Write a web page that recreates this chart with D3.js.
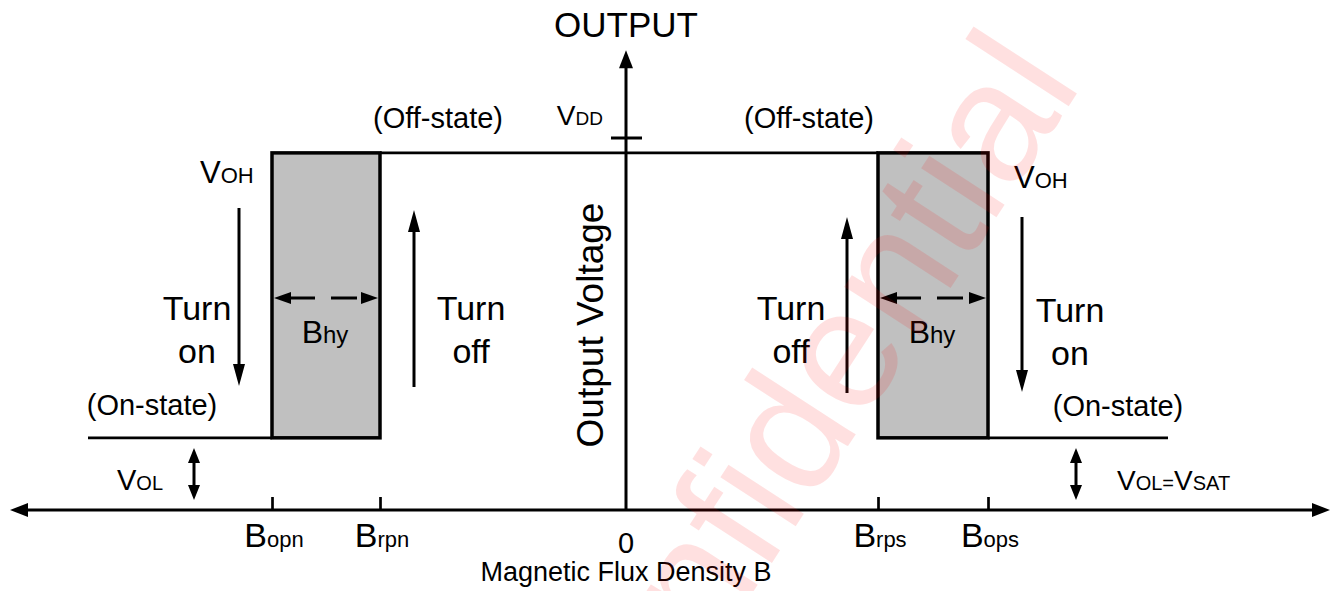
<!DOCTYPE html>
<html>
<head>
<meta charset="utf-8">
<script src="https://cdn.jsdelivr.net/npm/d3@7"></script>
<style>
    html, body { margin: 0; padding: 0; background: #fff; }
    svg { display: block; font-family: "Liberation Sans", Arial, sans-serif; }
</style>
</head>
<body>
<div id="hysteresis"></div>
<script>
// Switching thresholds on the flux axis (arbitrary units, 0 at the origin)
const fluxNames = ["opn", "rpn", "rps", "ops"];
const fluxValues = [-35.4, -24.6, 25.2, 36.2];
// Output levels (V)
const levelNames = ["VOL", "VOH", "VDD"];
const levelValues = [0.97, 4.8, 5.0];
// Ends of the drawn flux range and of the low-state lines
const fluxAxis = [-61.6, 70.4];
const lowLineEnds = [-53.8, 54.2];
const outputTop = 6.18;

document.addEventListener('DOMContentLoaded', () => {
    const W = 1338, H = 591;
    const [bOpn, bRpn, bRps, bOps] = fluxValues;
    const [vol, voh, vdd] = levelValues;

    const svg = d3.select("#hysteresis")
        .append("svg")
        .attr("width", W)
        .attr("height", H);

    // Scales: flux density -> x, output voltage -> y
    const x = d3.scaleLinear().domain(fluxAxis).range([10, 1330]);
    const y = d3.scaleLinear().domain([0, vdd]).range([510, 138]);

    // Filled arrow head, tip at (tx,ty), pointing along angle (deg)
    function head(tx, ty, angle, len, hw) {
        const a = angle * Math.PI / 180;
        const dx = Math.cos(a), dy = Math.sin(a);
        const bx = tx - dx * len, by = ty - dy * len;
        svg.append("path")
            .attr("d", `M${tx},${ty}L${bx - dy * hw},${by + dx * hw}L${bx + dy * hw},${by - dx * hw}Z`)
            .attr("fill", "#000");
    }

    function line(x1, y1, x2, y2, w, dash) {
        svg.append("line")
            .attr("x1", x1).attr("y1", y1).attr("x2", x2).attr("y2", y2)
            .attr("stroke", "#000")
            .attr("stroke-width", w)
            .attr("stroke-dasharray", dash || null);
    }

    // Text made of [string, size] pieces on a shared baseline
    function label(tx, ty, parts, anchor) {
        const t = svg.append("text")
            .attr("x", tx).attr("y", ty)
            .attr("text-anchor", anchor || "start")
            .attr("fill", "#000");
        parts.forEach(p => t.append("tspan").attr("font-size", p[1]).text(p[0]));
        return t;
    }

    // Hysteresis boxes
    svg.selectAll(".box")
        .data([[bOpn, bRpn], [bRps, bOps]])
        .join("rect")
        .attr("class", "box")
        .attr("x", d => x(d[0]))
        .attr("y", y(voh))
        .attr("width", d => x(d[1]) - x(d[0]))
        .attr("height", y(vol) - y(voh))
        .attr("fill", "#c0c0c0")
        .attr("stroke", "#000")
        .attr("stroke-width", 3.5);

    // Low (on) and high (off) output lines
    const trace = d3.line().x(d => x(d[0])).y(d => y(d[1]));
    [
        [[lowLineEnds[0], vol], [bOpn, vol]],
        [[bOps, vol], [lowLineEnds[1], vol]],
        [[bRpn, voh], [bRps, voh]]
    ].forEach(seg => {
        svg.append("path")
            .attr("d", trace(seg))
            .attr("fill", "none")
            .attr("stroke", "#000")
            .attr("stroke-width", 2.7);
    });

    // Flux axis with ticks at the thresholds
    const xAxis = svg.append("g")
        .attr("transform", `translate(0,${y(0)})`)
        .call(d3.axisTop(x).tickValues(fluxValues).tickSize(13).tickFormat(""));
    xAxis.select(".domain").remove();
    xAxis.selectAll(".tick line").attr("stroke", "#000").attr("stroke-width", 2.7);

    line(x(fluxAxis[0]) + 10, y(0), x(fluxAxis[1]) - 10, y(0), 3);
    head(x(fluxAxis[0]), y(0), 180, 18, 7);
    head(x(fluxAxis[1]), y(0), 0, 18, 7);

    // Output axis
    line(x(0), y(0), x(0), y(outputTop) + 10, 3);
    head(x(0), y(outputTop), -90, 18, 7);
    line(x(0) - 15, y(vdd), x(0) + 16, y(vdd), 3);

    fluxNames.forEach((n, i) => {
        label(x(fluxValues[i]) + 2, 547, [["B", 34], [n, 22]], "middle");
    });
    label(x(0), 553, [["0", 29]], "middle");
    label(x(0), 581, [["Magnetic Flux Density B", 27]], "middle");
    label(x(0), 37, [["OUTPUT", 35]], "middle");
    label(603, 125, [["V", 28], ["DD", 19]], "end");

    svg.append("text")
        .attr("transform", `translate(603,325) rotate(-90)`)
        .attr("text-anchor", "middle")
        .attr("font-size", 37)
        .text("Output Voltage");

    // State labels
    label(438, 128, [["(Off-state)", 29]], "middle");
    label(809, 128, [["(Off-state)", 29]], "middle");
    label(152, 415, [["(On-state)", 29]], "middle");
    label(1118, 416, [["(On-state)", 29]], "middle");
    label(200, 183, [["V", 31], ["OH", 22]]);
    label(1014, 188, [["V", 31], ["OH", 22]]);
    label(117, 490, [["V", 29], ["OL", 20]]);
    label(1117, 490, [["V", 28], ["OL=", 20], ["V", 28], ["SAT", 20]]);

    // Switching direction arrows and text
    const turnArrows = [
        { bx: 239, from: 208, to: 386, txt: ["Turn", "on"], tx: 197, ty: 320 },
        { bx: 414, from: 387, to: 210, txt: ["Turn", "off"], tx: 471, ty: 320 },
        { bx: 847, from: 393, to: 217, txt: ["Turn", "off"], tx: 791, ty: 320 },
        { bx: 1022, from: 217, to: 392, txt: ["Turn", "on"], tx: 1070, ty: 322 }
    ];
    turnArrows.forEach(a => {
        const down = a.to > a.from;
        line(a.bx, a.from, a.bx, a.to + (down ? -12 : 12), 3);
        head(a.bx, a.to, down ? 90 : -90, 22, 6);
        label(a.tx, a.ty, [[a.txt[0], 34]], "middle");
        label(a.tx, a.ty + 43, [[a.txt[1], 34]], "middle");
    });

    // Hysteresis width markers
    [[bOpn, bRpn], [bRps, bOps]].forEach(d => {
        const x0 = x(d[0]) + 2, x1 = x(d[1]) - 2, yy = 298;
        line(x0 + 15, yy, x1 - 15, yy, 3, "26,16");
        head(x0, yy, 180, 17, 6);
        head(x1, yy, 0, 17, 6);
        label((x0 + x1) / 2 - 1, 343, [["B", 32], ["hy", 24]], "middle");
    });

    // VOL double arrows
    [194, 1076].forEach(bx => {
        line(bx, 460, bx, 488, 3);
        head(bx, 448, -90, 15, 6);
        head(bx, 500, 90, 15, 6);
    });

    // Watermark
    svg.append("text")
        .attr("transform", "translate(594,837) rotate(-57)")
        .attr("font-size", 170)
        .attr("fill", "#ff0000")
        .attr("fill-opacity", 0.12)
        .text("Confidential");
});
</script>
</body>
</html>
